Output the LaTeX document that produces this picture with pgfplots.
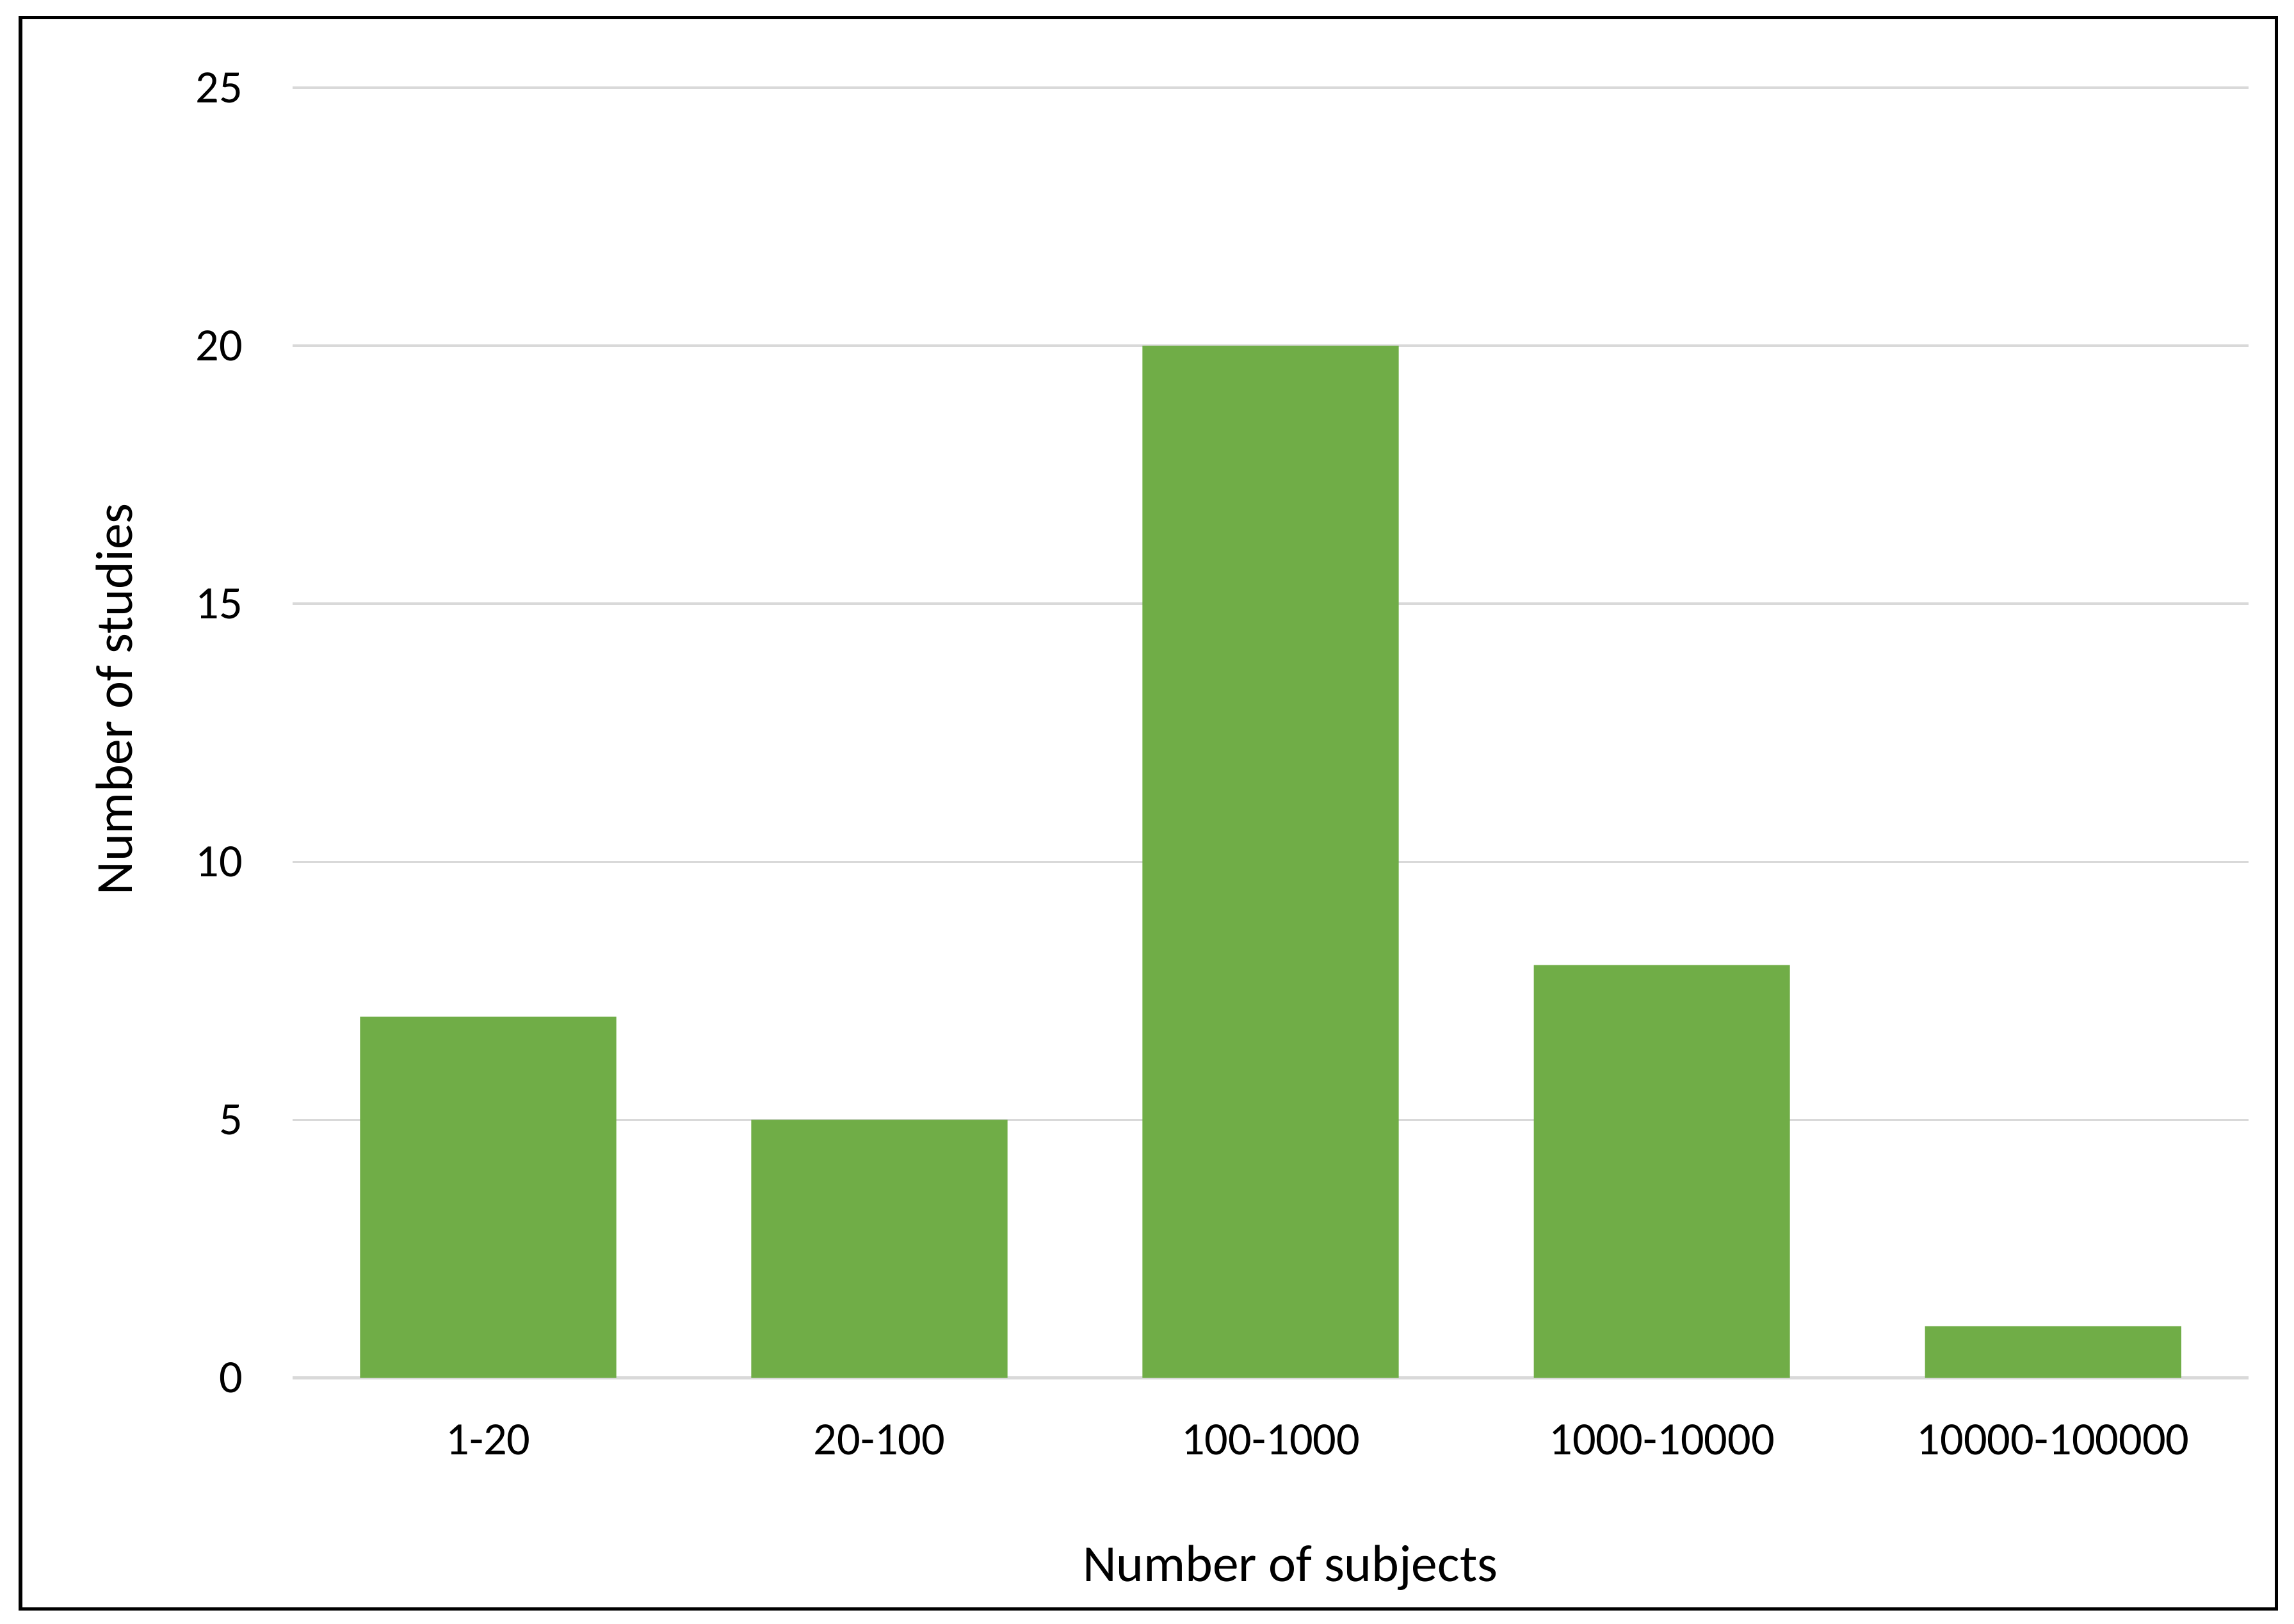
\documentclass[border=0pt]{standalone}
\usepackage{pgfplots}
\pgfplotsset{compat=1.18}
\usepackage{fontspec}
\setmainfont{Carlito}
\definecolor{bargreen}{HTML}{70AD47}
\definecolor{gridgray}{HTML}{D9D9D9}
\begin{document}
\begin{tikzpicture}
\useasboundingbox (0,0) rectangle (470.4pt,333pt);
\begin{axis}[
  at={(60pt,50.4pt)}, anchor=south west,
  scale only axis,
  width=401.1pt, height=264.6pt,
  xmin=-0.5, xmax=4.5,
  ymin=0, ymax=25,
  ytick={0,5,10,15,20,25},
  xtick=data,
  xticklabels={1-20,20-100,100-1000,1000-10000,10000-100000},
  major tick length=0pt,
  axis x line*=bottom,
  axis y line*=left,
  x axis line style={gridgray, line width=0.6pt, -},
  y axis line style={draw=none, -},
  ymajorgrids,
  grid style={gridgray, line width=0.5pt},
  /pgf/number format/assume math mode=true,
  ticklabel style={font=\fontsize{9.5}{11}\selectfont, text=black},
  yticklabel style={anchor=east, xshift=-6.7pt},
  xticklabel style={anchor=north, yshift=-6.1pt},
  ylabel={Number of studies},
  xlabel={Number of subjects},
  label style={font=\fontsize{10.7}{12}\selectfont},
  xlabel style={at={(axis description cs:0.510,-0.147)}, anchor=center},
  ylabel style={at={(axis description cs:-0.0912,0.526)}, anchor=center, rotate=0},
  ybar, bar width=0.655,
  clip=false,
]
\addplot[fill=bargreen, draw=none] coordinates {(0,7) (1,5) (2,20) (3,8) (4,1)};
\end{axis}
\draw[line width=0.7pt, black] (4.2pt,3pt) rectangle (466.8pt,329.4pt);
\end{tikzpicture}
\end{document}
